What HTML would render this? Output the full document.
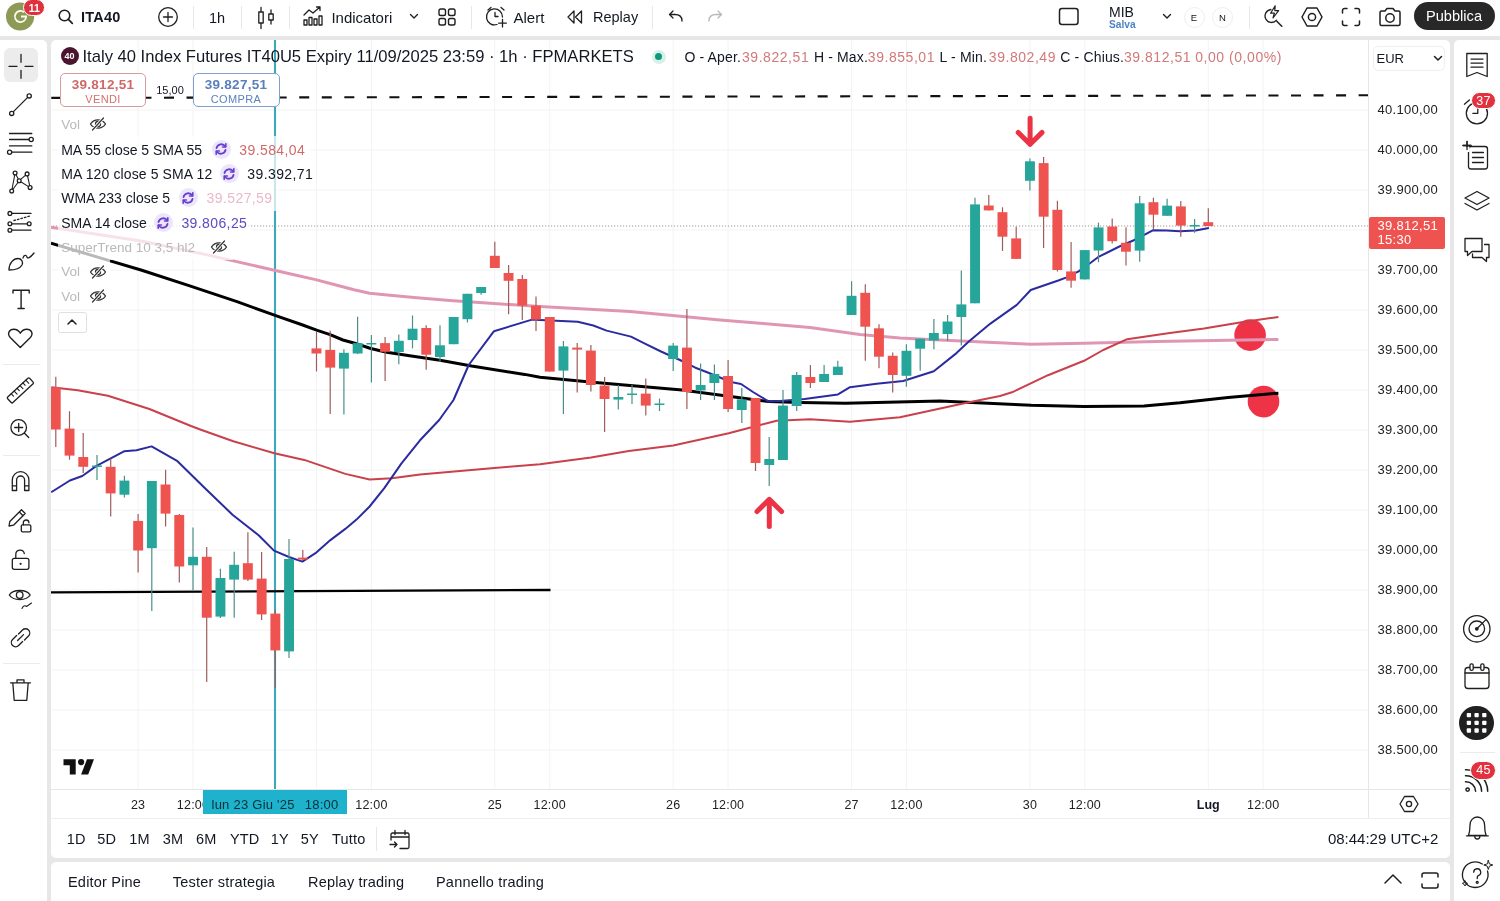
<!DOCTYPE html>
<html><head><meta charset="utf-8">
<style>
*{margin:0;padding:0;box-sizing:border-box}
html,body{width:1500px;height:901px;overflow:hidden;background:#e7e7e7;font-family:"Liberation Sans",sans-serif;color:#131722}
.a{position:absolute;white-space:nowrap}
.panel{position:absolute;background:#fff}
.t{position:absolute;white-space:nowrap;line-height:1}
svg{position:absolute;overflow:visible}
.ic{fill:none;stroke:#1f1f1f;stroke-width:1.3;stroke-linecap:round;stroke-linejoin:round}
</style></head><body style="filter:blur(0.35px)">
<!-- panels -->
<div class="panel" style="left:0;top:0;width:1500px;height:36px"></div>
<div class="panel" style="left:0;top:40px;width:47px;height:861px;border-radius:0 5px 0 0"></div>
<div class="panel" style="left:51px;top:40px;width:1399px;height:817.5px;border-radius:5px"></div>
<div class="panel" style="left:51px;top:862px;width:1399px;height:39px;border-radius:5px 5px 0 0"></div>
<div class="panel" style="left:1454px;top:40px;width:46px;height:861px;border-radius:5px 0 0 0"></div>

<!-- chart svg -->
<svg width="1500" height="901" style="left:0;top:0" viewBox="0 0 1500 901">
<defs><clipPath id="cp"><rect x="51" y="40" width="1317" height="749"/></clipPath></defs>
<g clip-path="url(#cp)">
<line x1="50" x2="1368" y1="110.0" y2="110.0" stroke="#f2f3f5" stroke-width="1"/>
<line x1="50" x2="1368" y1="150.0" y2="150.0" stroke="#f2f3f5" stroke-width="1"/>
<line x1="50" x2="1368" y1="190.0" y2="190.0" stroke="#f2f3f5" stroke-width="1"/>
<line x1="50" x2="1368" y1="230.0" y2="230.0" stroke="#f2f3f5" stroke-width="1"/>
<line x1="50" x2="1368" y1="270.0" y2="270.0" stroke="#f2f3f5" stroke-width="1"/>
<line x1="50" x2="1368" y1="310.0" y2="310.0" stroke="#f2f3f5" stroke-width="1"/>
<line x1="50" x2="1368" y1="350.0" y2="350.0" stroke="#f2f3f5" stroke-width="1"/>
<line x1="50" x2="1368" y1="390.0" y2="390.0" stroke="#f2f3f5" stroke-width="1"/>
<line x1="50" x2="1368" y1="430.0" y2="430.0" stroke="#f2f3f5" stroke-width="1"/>
<line x1="50" x2="1368" y1="470.0" y2="470.0" stroke="#f2f3f5" stroke-width="1"/>
<line x1="50" x2="1368" y1="510.0" y2="510.0" stroke="#f2f3f5" stroke-width="1"/>
<line x1="50" x2="1368" y1="550.0" y2="550.0" stroke="#f2f3f5" stroke-width="1"/>
<line x1="50" x2="1368" y1="590.0" y2="590.0" stroke="#f2f3f5" stroke-width="1"/>
<line x1="50" x2="1368" y1="630.0" y2="630.0" stroke="#f2f3f5" stroke-width="1"/>
<line x1="50" x2="1368" y1="670.0" y2="670.0" stroke="#f2f3f5" stroke-width="1"/>
<line x1="50" x2="1368" y1="710.0" y2="710.0" stroke="#f2f3f5" stroke-width="1"/>
<line x1="50" x2="1368" y1="750.0" y2="750.0" stroke="#f2f3f5" stroke-width="1"/>
<line x1="138.1" x2="138.1" y1="40" y2="789" stroke="#f2f3f5" stroke-width="1"/>
<line x1="193.0" x2="193.0" y1="40" y2="789" stroke="#f2f3f5" stroke-width="1"/>
<line x1="316.5" x2="316.5" y1="40" y2="789" stroke="#f2f3f5" stroke-width="1"/>
<line x1="371.4" x2="371.4" y1="40" y2="789" stroke="#f2f3f5" stroke-width="1"/>
<line x1="494.8" x2="494.8" y1="40" y2="789" stroke="#f2f3f5" stroke-width="1"/>
<line x1="549.7" x2="549.7" y1="40" y2="789" stroke="#f2f3f5" stroke-width="1"/>
<line x1="673.2" x2="673.2" y1="40" y2="789" stroke="#f2f3f5" stroke-width="1"/>
<line x1="728.1" x2="728.1" y1="40" y2="789" stroke="#f2f3f5" stroke-width="1"/>
<line x1="851.6" x2="851.6" y1="40" y2="789" stroke="#f2f3f5" stroke-width="1"/>
<line x1="906.4" x2="906.4" y1="40" y2="789" stroke="#f2f3f5" stroke-width="1"/>
<line x1="1029.9" x2="1029.9" y1="40" y2="789" stroke="#f2f3f5" stroke-width="1"/>
<line x1="1084.8" x2="1084.8" y1="40" y2="789" stroke="#f2f3f5" stroke-width="1"/>
<line x1="1208.3" x2="1208.3" y1="40" y2="789" stroke="#f2f3f5" stroke-width="1"/>
<line x1="1263.2" x2="1263.2" y1="40" y2="789" stroke="#f2f3f5" stroke-width="1"/>
<line x1="51.3" x2="1368" y1="97.9" y2="95.3" stroke="#111" stroke-width="2.1" stroke-dasharray="10 12.54"/>
<line x1="50" x2="1368" y1="226" y2="226" stroke="#a89393" stroke-width="1.2" stroke-dasharray="1.2 1.8"/>
<line x1="275" x2="275" y1="40" y2="789" stroke="#3fa8b8" stroke-width="2.1"/>
<circle cx="1250.1" cy="335.1" r="15.8" fill="#ee3347"/>
<circle cx="1263.5" cy="401.6" r="15.8" fill="#ee3347"/>
<path d="M51.0 227.2 L141.0 241.0 L205.0 254.4 L270.0 269.2 L294.0 274.8 L315.6 279.6 L336.0 285.0 L354.0 289.8 L369.6 293.2 L390.0 295.2 L414.0 297.6 L450.0 300.6 L540.0 306.5 L630.0 311.5 L720.0 320.0 L810.0 327.5 L860.0 334.6 L900.0 338.0 L940.0 339.9 L1031.2 344.2 L1084.0 343.3 L1156.0 341.6 L1278.4 339.4" fill="none" stroke="#e096b3" stroke-width="3" stroke-linejoin="round"/>
<path d="M51.0 243.1 L102.6 258.6 L141.0 270.0 L189.0 285.6 L237.0 301.6 L273.0 314.7 L280.0 317.1 L301.3 324.5 L317.3 330.4 L330.1 334.7 L342.9 340.0 L354.7 343.2 L370.7 348.5 L386.7 352.3 L408.0 355.5 L440.0 360.3 L471.6 366.1 L524.8 374.4 L540.0 377.3 L595.5 382.6 L682.0 390.0 L739.8 397.7 L768.7 401.6 L800.0 402.5 L845.4 403.2 L940.0 401.1 L1031.2 405.2 L1084.0 406.4 L1144.0 405.9 L1180.0 402.8 L1228.0 397.5 L1278.4 393.2" fill="none" stroke="#000" stroke-width="3" stroke-linejoin="round"/>
<path d="M51.3 387.2 L77.7 390.2 L107.9 395.8 L149.4 409.0 L191.0 426.0 L201.6 430.0 L233.3 441.2 L274.4 453.3 L304.3 459.9 L345.3 473.9 L369.6 479.5 L392.0 478.2 L420.0 474.4 L480.0 469.2 L540.0 464.3 L591.0 457.6 L628.8 451.0 L673.2 445.4 L728.7 433.2 L760.0 425.0 L776.7 420.7 L810.0 419.3 L850.0 421.7 L900.0 417.3 L933.3 410.0 L966.7 402.7 L1000.0 396.0 L1012.0 392.3 L1048.0 375.2 L1084.0 360.8 L1103.2 350.0 L1127.2 339.2 L1168.0 333.2 L1204.0 328.4 L1240.0 322.4 L1278.4 316.9" fill="none" stroke="#c8414b" stroke-width="2" stroke-linejoin="round"/>
<path d="M51.2 492.2 L69.9 480.5 L82.3 476.0 L96.5 465.9 L109.8 458.8 L124.0 451.3 L136.5 450.3 L151.6 446.4 L177.5 461.2 L205.0 488.2 L232.5 514.7 L258.9 535.5 L274.0 550.6 L289.0 557.0 L302.4 561.6 L315.5 553.2 L330.4 540.1 L345.3 528.9 L356.5 519.6 L369.6 506.5 L384.5 487.9 L401.3 463.6 L420.0 440.3 L439.2 420.0 L453.5 400.0 L468.7 365.0 L494.0 331.2 L532.0 319.6 L540.0 320.0 L577.7 321.7 L593.3 325.5 L606.6 330.6 L631.0 336.6 L644.4 343.3 L661.0 351.5 L679.9 360.0 L695.4 367.7 L706.5 372.0 L731.0 382.0 L741.0 384.0 L753.0 392.0 L768.7 401.6 L780.0 401.0 L804.6 398.9 L838.0 394.4 L850.0 387.2 L876.6 383.7 L903.2 381.0 L933.8 371.3 L956.5 353.1 L968.8 341.6 L990.4 323.6 L1016.8 304.9 L1030.7 290.0 L1059.0 280.2 L1066.0 277.6 L1078.6 271.4 L1091.0 262.5 L1098.0 257.2 L1119.4 246.5 L1134.4 240.0 L1153.3 230.2 L1166.7 230.6 L1180.0 231.3 L1195.5 230.6 L1208.9 228.0" fill="none" stroke="#2b2ba0" stroke-width="2" stroke-linejoin="round"/>
<line x1="51" x2="550.5" y1="592.3" y2="590" stroke="#000" stroke-width="2.3"/>
<line x1="55.8" x2="55.8" y1="376.7" y2="447.0" stroke="#a05c5c" stroke-width="1.2"/>
<rect x="50.8" y="387.2" width="9.9" height="42.3" fill="#ef5350"/>
<line x1="69.5" x2="69.5" y1="411.2" y2="459.7" stroke="#a05c5c" stroke-width="1.2"/>
<rect x="64.6" y="428.6" width="9.9" height="27.0" fill="#ef5350"/>
<line x1="83.2" x2="83.2" y1="433.0" y2="473.0" stroke="#a05c5c" stroke-width="1.2"/>
<rect x="78.3" y="457.0" width="9.9" height="9.8" fill="#ef5350"/>
<line x1="97.0" x2="97.0" y1="455.0" y2="480.0" stroke="#4c8f88" stroke-width="1.2"/>
<rect x="92.0" y="465.5" width="9.9" height="1.5" fill="#26a69a"/>
<line x1="110.7" x2="110.7" y1="458.8" y2="516.5" stroke="#a05c5c" stroke-width="1.2"/>
<rect x="105.7" y="466.8" width="9.9" height="26.6" fill="#ef5350"/>
<line x1="124.4" x2="124.4" y1="475.7" y2="497.5" stroke="#4c8f88" stroke-width="1.2"/>
<rect x="119.5" y="480.6" width="9.9" height="14.1" fill="#26a69a"/>
<line x1="138.1" x2="138.1" y1="514.0" y2="572.4" stroke="#a05c5c" stroke-width="1.2"/>
<rect x="133.2" y="520.9" width="9.9" height="29.6" fill="#ef5350"/>
<line x1="151.8" x2="151.8" y1="481.0" y2="611.0" stroke="#4c8f88" stroke-width="1.2"/>
<rect x="146.9" y="481.0" width="9.9" height="67.2" fill="#26a69a"/>
<line x1="165.6" x2="165.6" y1="469.7" y2="526.6" stroke="#a05c5c" stroke-width="1.2"/>
<rect x="160.6" y="484.5" width="9.9" height="29.1" fill="#ef5350"/>
<line x1="179.3" x2="179.3" y1="514.0" y2="582.6" stroke="#a05c5c" stroke-width="1.2"/>
<rect x="174.3" y="515.0" width="9.9" height="51.5" fill="#ef5350"/>
<line x1="193.0" x2="193.0" y1="527.5" y2="590.0" stroke="#4c8f88" stroke-width="1.2"/>
<rect x="188.1" y="556.8" width="9.9" height="8.5" fill="#26a69a"/>
<line x1="206.7" x2="206.7" y1="547.0" y2="682.0" stroke="#a05c5c" stroke-width="1.2"/>
<rect x="201.8" y="556.8" width="9.9" height="60.9" fill="#ef5350"/>
<line x1="220.4" x2="220.4" y1="568.8" y2="618.0" stroke="#4c8f88" stroke-width="1.2"/>
<rect x="215.5" y="578.0" width="9.9" height="38.6" fill="#26a69a"/>
<line x1="234.2" x2="234.2" y1="551.8" y2="617.7" stroke="#4c8f88" stroke-width="1.2"/>
<rect x="229.2" y="564.8" width="9.9" height="14.8" fill="#26a69a"/>
<line x1="247.9" x2="247.9" y1="532.3" y2="581.0" stroke="#a05c5c" stroke-width="1.2"/>
<rect x="242.9" y="563.2" width="9.9" height="16.4" fill="#ef5350"/>
<line x1="261.6" x2="261.6" y1="552.0" y2="620.0" stroke="#a05c5c" stroke-width="1.2"/>
<rect x="256.7" y="578.6" width="9.9" height="35.8" fill="#ef5350"/>
<line x1="275.3" x2="275.3" y1="610.0" y2="688.0" stroke="#a05c5c" stroke-width="1.2"/>
<rect x="270.4" y="613.6" width="9.9" height="36.8" fill="#ef5350"/>
<line x1="289.0" x2="289.0" y1="539.0" y2="658.0" stroke="#4c8f88" stroke-width="1.2"/>
<rect x="284.1" y="559.0" width="9.9" height="92.4" fill="#26a69a"/>
<line x1="302.8" x2="302.8" y1="550.0" y2="560.0" stroke="#a05c5c" stroke-width="1.2"/>
<rect x="297.8" y="557.6" width="9.9" height="2.0" fill="#ef5350"/>
<line x1="316.5" x2="316.5" y1="331.8" y2="371.5" stroke="#a05c5c" stroke-width="1.2"/>
<rect x="311.5" y="348.4" width="9.9" height="5.1" fill="#ef5350"/>
<line x1="330.2" x2="330.2" y1="330.7" y2="414.1" stroke="#a05c5c" stroke-width="1.2"/>
<rect x="325.3" y="349.9" width="9.9" height="17.7" fill="#ef5350"/>
<line x1="343.9" x2="343.9" y1="349.2" y2="414.4" stroke="#4c8f88" stroke-width="1.2"/>
<rect x="339.0" y="352.8" width="9.9" height="15.8" fill="#26a69a"/>
<line x1="357.6" x2="357.6" y1="316.7" y2="354.0" stroke="#4c8f88" stroke-width="1.2"/>
<rect x="352.7" y="343.1" width="9.9" height="10.4" fill="#26a69a"/>
<line x1="371.4" x2="371.4" y1="335.0" y2="382.4" stroke="#4c8f88" stroke-width="1.2"/>
<rect x="366.4" y="343.0" width="9.9" height="1.5" fill="#26a69a"/>
<line x1="385.1" x2="385.1" y1="336.9" y2="380.9" stroke="#a05c5c" stroke-width="1.2"/>
<rect x="380.1" y="343.1" width="9.9" height="8.7" fill="#ef5350"/>
<line x1="398.8" x2="398.8" y1="334.4" y2="364.3" stroke="#4c8f88" stroke-width="1.2"/>
<rect x="393.9" y="340.8" width="9.9" height="11.2" fill="#26a69a"/>
<line x1="412.5" x2="412.5" y1="315.5" y2="348.4" stroke="#4c8f88" stroke-width="1.2"/>
<rect x="407.6" y="328.7" width="9.9" height="11.3" fill="#26a69a"/>
<line x1="426.2" x2="426.2" y1="325.3" y2="369.7" stroke="#a05c5c" stroke-width="1.2"/>
<rect x="421.3" y="328.0" width="9.9" height="26.7" fill="#ef5350"/>
<line x1="440.0" x2="440.0" y1="325.3" y2="361.7" stroke="#4c8f88" stroke-width="1.2"/>
<rect x="435.0" y="345.3" width="9.9" height="11.7" fill="#26a69a"/>
<line x1="453.7" x2="453.7" y1="317.0" y2="344.2" stroke="#4c8f88" stroke-width="1.2"/>
<rect x="448.7" y="317.0" width="9.9" height="27.2" fill="#26a69a"/>
<line x1="467.4" x2="467.4" y1="293.8" y2="322.5" stroke="#4c8f88" stroke-width="1.2"/>
<rect x="462.5" y="293.8" width="9.9" height="25.4" fill="#26a69a"/>
<line x1="481.1" x2="481.1" y1="287.0" y2="294.7" stroke="#4c8f88" stroke-width="1.2"/>
<rect x="476.2" y="287.0" width="9.9" height="6.0" fill="#26a69a"/>
<line x1="494.8" x2="494.8" y1="241.7" y2="268.0" stroke="#a05c5c" stroke-width="1.2"/>
<rect x="489.9" y="255.8" width="9.9" height="12.2" fill="#ef5350"/>
<line x1="508.6" x2="508.6" y1="265.0" y2="314.2" stroke="#a05c5c" stroke-width="1.2"/>
<rect x="503.6" y="273.0" width="9.9" height="7.8" fill="#ef5350"/>
<line x1="522.3" x2="522.3" y1="275.0" y2="320.0" stroke="#a05c5c" stroke-width="1.2"/>
<rect x="517.3" y="279.0" width="9.9" height="26.6" fill="#ef5350"/>
<line x1="536.0" x2="536.0" y1="296.4" y2="331.0" stroke="#a05c5c" stroke-width="1.2"/>
<rect x="531.0" y="305.6" width="9.9" height="14.0" fill="#ef5350"/>
<line x1="549.7" x2="549.7" y1="317.0" y2="371.6" stroke="#a05c5c" stroke-width="1.2"/>
<rect x="544.8" y="317.0" width="9.9" height="54.6" fill="#ef5350"/>
<line x1="563.4" x2="563.4" y1="341.0" y2="414.0" stroke="#4c8f88" stroke-width="1.2"/>
<rect x="558.5" y="346.4" width="9.9" height="24.2" fill="#26a69a"/>
<line x1="577.2" x2="577.2" y1="343.0" y2="392.4" stroke="#a05c5c" stroke-width="1.2"/>
<rect x="572.2" y="347.6" width="9.9" height="2.0" fill="#ef5350"/>
<line x1="590.9" x2="590.9" y1="345.0" y2="391.6" stroke="#a05c5c" stroke-width="1.2"/>
<rect x="585.9" y="350.6" width="9.9" height="34.4" fill="#ef5350"/>
<line x1="604.6" x2="604.6" y1="377.0" y2="432.0" stroke="#a05c5c" stroke-width="1.2"/>
<rect x="599.6" y="385.6" width="9.9" height="13.4" fill="#ef5350"/>
<line x1="618.3" x2="618.3" y1="385.0" y2="409.6" stroke="#4c8f88" stroke-width="1.2"/>
<rect x="613.4" y="397.0" width="9.9" height="2.6" fill="#26a69a"/>
<line x1="632.0" x2="632.0" y1="385.0" y2="404.0" stroke="#4c8f88" stroke-width="1.2"/>
<rect x="627.1" y="393.5" width="9.9" height="1.5" fill="#26a69a"/>
<line x1="645.8" x2="645.8" y1="378.4" y2="415.6" stroke="#a05c5c" stroke-width="1.2"/>
<rect x="640.8" y="393.6" width="9.9" height="12.0" fill="#ef5350"/>
<line x1="659.5" x2="659.5" y1="398.6" y2="411.0" stroke="#4c8f88" stroke-width="1.2"/>
<rect x="654.5" y="403.5" width="9.9" height="1.5" fill="#26a69a"/>
<line x1="673.2" x2="673.2" y1="343.0" y2="371.0" stroke="#4c8f88" stroke-width="1.2"/>
<rect x="668.2" y="345.6" width="9.9" height="13.4" fill="#26a69a"/>
<line x1="686.9" x2="686.9" y1="309.0" y2="409.0" stroke="#a05c5c" stroke-width="1.2"/>
<rect x="682.0" y="347.6" width="9.9" height="44.4" fill="#ef5350"/>
<line x1="700.6" x2="700.6" y1="363.6" y2="400.0" stroke="#4c8f88" stroke-width="1.2"/>
<rect x="695.7" y="385.0" width="9.9" height="5.4" fill="#26a69a"/>
<line x1="714.4" x2="714.4" y1="364.4" y2="400.0" stroke="#4c8f88" stroke-width="1.2"/>
<rect x="709.4" y="374.0" width="9.9" height="9.0" fill="#26a69a"/>
<line x1="728.1" x2="728.1" y1="360.0" y2="412.0" stroke="#a05c5c" stroke-width="1.2"/>
<rect x="723.1" y="376.0" width="9.9" height="33.0" fill="#ef5350"/>
<line x1="741.8" x2="741.8" y1="388.0" y2="423.0" stroke="#4c8f88" stroke-width="1.2"/>
<rect x="736.8" y="399.4" width="9.9" height="10.6" fill="#26a69a"/>
<line x1="755.5" x2="755.5" y1="398.0" y2="471.0" stroke="#a05c5c" stroke-width="1.2"/>
<rect x="750.6" y="398.0" width="9.9" height="65.0" fill="#ef5350"/>
<line x1="769.2" x2="769.2" y1="437.0" y2="486.0" stroke="#4c8f88" stroke-width="1.2"/>
<rect x="764.3" y="459.0" width="9.9" height="6.0" fill="#26a69a"/>
<line x1="783.0" x2="783.0" y1="390.0" y2="460.0" stroke="#4c8f88" stroke-width="1.2"/>
<rect x="778.0" y="405.6" width="9.9" height="54.4" fill="#26a69a"/>
<line x1="796.7" x2="796.7" y1="372.0" y2="411.0" stroke="#4c8f88" stroke-width="1.2"/>
<rect x="791.7" y="375.0" width="9.9" height="31.0" fill="#26a69a"/>
<line x1="810.4" x2="810.4" y1="365.0" y2="388.0" stroke="#a05c5c" stroke-width="1.2"/>
<rect x="805.4" y="377.0" width="9.9" height="6.0" fill="#ef5350"/>
<line x1="824.1" x2="824.1" y1="365.0" y2="382.0" stroke="#4c8f88" stroke-width="1.2"/>
<rect x="819.2" y="374.0" width="9.9" height="8.0" fill="#26a69a"/>
<line x1="837.8" x2="837.8" y1="360.8" y2="375.0" stroke="#4c8f88" stroke-width="1.2"/>
<rect x="832.9" y="366.7" width="9.9" height="8.3" fill="#26a69a"/>
<line x1="851.6" x2="851.6" y1="281.3" y2="315.0" stroke="#4c8f88" stroke-width="1.2"/>
<rect x="846.6" y="295.8" width="9.9" height="19.2" fill="#26a69a"/>
<line x1="865.3" x2="865.3" y1="284.2" y2="360.8" stroke="#a05c5c" stroke-width="1.2"/>
<rect x="860.3" y="292.8" width="9.9" height="33.9" fill="#ef5350"/>
<line x1="879.0" x2="879.0" y1="324.2" y2="368.3" stroke="#a05c5c" stroke-width="1.2"/>
<rect x="874.0" y="328.3" width="9.9" height="28.4" fill="#ef5350"/>
<line x1="892.7" x2="892.7" y1="352.5" y2="392.5" stroke="#a05c5c" stroke-width="1.2"/>
<rect x="887.8" y="355.8" width="9.9" height="19.2" fill="#ef5350"/>
<line x1="906.4" x2="906.4" y1="344.2" y2="386.7" stroke="#4c8f88" stroke-width="1.2"/>
<rect x="901.5" y="350.8" width="9.9" height="25.0" fill="#26a69a"/>
<line x1="920.2" x2="920.2" y1="338.7" y2="370.8" stroke="#4c8f88" stroke-width="1.2"/>
<rect x="915.2" y="338.7" width="9.9" height="10.0" fill="#26a69a"/>
<line x1="933.9" x2="933.9" y1="319.0" y2="349.2" stroke="#4c8f88" stroke-width="1.2"/>
<rect x="928.9" y="333.0" width="9.9" height="7.5" fill="#26a69a"/>
<line x1="947.6" x2="947.6" y1="314.9" y2="341.0" stroke="#4c8f88" stroke-width="1.2"/>
<rect x="942.6" y="321.5" width="9.9" height="12.5" fill="#26a69a"/>
<line x1="961.3" x2="961.3" y1="270.4" y2="345.6" stroke="#4c8f88" stroke-width="1.2"/>
<rect x="956.4" y="304.4" width="9.9" height="12.6" fill="#26a69a"/>
<line x1="975.0" x2="975.0" y1="197.8" y2="303.3" stroke="#4c8f88" stroke-width="1.2"/>
<rect x="970.1" y="204.4" width="9.9" height="98.9" fill="#26a69a"/>
<line x1="988.8" x2="988.8" y1="194.9" y2="210.4" stroke="#a05c5c" stroke-width="1.2"/>
<rect x="983.8" y="205.5" width="9.9" height="4.9" fill="#ef5350"/>
<line x1="1002.5" x2="1002.5" y1="207.3" y2="251.0" stroke="#a05c5c" stroke-width="1.2"/>
<rect x="997.5" y="212.2" width="9.9" height="24.5" fill="#ef5350"/>
<line x1="1016.2" x2="1016.2" y1="226.7" y2="258.9" stroke="#a05c5c" stroke-width="1.2"/>
<rect x="1011.2" y="238.4" width="9.9" height="20.5" fill="#ef5350"/>
<line x1="1029.9" x2="1029.9" y1="158.6" y2="190.6" stroke="#4c8f88" stroke-width="1.2"/>
<rect x="1025.0" y="161.3" width="9.9" height="19.5" fill="#26a69a"/>
<line x1="1043.6" x2="1043.6" y1="156.9" y2="248.0" stroke="#a05c5c" stroke-width="1.2"/>
<rect x="1038.7" y="163.1" width="9.9" height="53.6" fill="#ef5350"/>
<line x1="1057.4" x2="1057.4" y1="200.7" y2="271.4" stroke="#a05c5c" stroke-width="1.2"/>
<rect x="1052.4" y="209.8" width="9.9" height="60.2" fill="#ef5350"/>
<line x1="1071.1" x2="1071.1" y1="242.0" y2="287.8" stroke="#a05c5c" stroke-width="1.2"/>
<rect x="1066.1" y="271.4" width="9.9" height="9.3" fill="#ef5350"/>
<line x1="1084.8" x2="1084.8" y1="250.1" y2="279.4" stroke="#4c8f88" stroke-width="1.2"/>
<rect x="1079.8" y="250.1" width="9.9" height="29.3" fill="#26a69a"/>
<line x1="1098.5" x2="1098.5" y1="222.6" y2="262.2" stroke="#4c8f88" stroke-width="1.2"/>
<rect x="1093.6" y="227.4" width="9.9" height="23.1" fill="#26a69a"/>
<line x1="1112.2" x2="1112.2" y1="218.5" y2="243.4" stroke="#a05c5c" stroke-width="1.2"/>
<rect x="1107.3" y="226.5" width="9.9" height="14.7" fill="#ef5350"/>
<line x1="1126.0" x2="1126.0" y1="227.2" y2="265.6" stroke="#a05c5c" stroke-width="1.2"/>
<rect x="1121.0" y="242.8" width="9.9" height="8.9" fill="#ef5350"/>
<line x1="1139.7" x2="1139.7" y1="196.1" y2="261.7" stroke="#4c8f88" stroke-width="1.2"/>
<rect x="1134.7" y="203.3" width="9.9" height="47.3" fill="#26a69a"/>
<line x1="1153.4" x2="1153.4" y1="197.8" y2="228.9" stroke="#a05c5c" stroke-width="1.2"/>
<rect x="1148.5" y="202.2" width="9.9" height="12.5" fill="#ef5350"/>
<line x1="1167.1" x2="1167.1" y1="198.7" y2="215.8" stroke="#4c8f88" stroke-width="1.2"/>
<rect x="1162.2" y="205.6" width="9.9" height="10.2" fill="#26a69a"/>
<line x1="1180.8" x2="1180.8" y1="201.1" y2="236.7" stroke="#a05c5c" stroke-width="1.2"/>
<rect x="1175.9" y="206.4" width="9.9" height="19.2" fill="#ef5350"/>
<line x1="1194.6" x2="1194.6" y1="218.9" y2="232.8" stroke="#4c8f88" stroke-width="1.2"/>
<rect x="1189.6" y="225.0" width="9.9" height="1.5" fill="#26a69a"/>
<line x1="1208.3" x2="1208.3" y1="208.3" y2="226.1" stroke="#a05c5c" stroke-width="1.2"/>
<rect x="1203.3" y="222.2" width="9.9" height="3.9" fill="#ef5350"/>
<path d="M769.3 526.5 V499.4 M757 511.6 L769.3 499.3 L781.6 511.6" fill="none" stroke="#eb3346" stroke-width="5" stroke-linejoin="round" stroke-linecap="round"/>
<path d="M1030.1 118.2 V144.3 M1018.2 132.4 L1030.1 144.3 L1042.1 132.4" fill="none" stroke="#eb3346" stroke-width="5" stroke-linejoin="round" stroke-linecap="round"/>
</g>
<!-- axis borders -->
<line x1="1368.5" x2="1368.5" y1="40" y2="818" stroke="#e6e6e6" stroke-width="1"/>
<line x1="51" x2="1450" y1="789.5" y2="789.5" stroke="#e6e6e6" stroke-width="1"/>
<line x1="51" x2="1450" y1="818.5" y2="818.5" stroke="#eeeeee" stroke-width="1"/>
</svg>

<svg style="left:4px;top:1px" width="34" height="34" viewBox="0 0 34 34"><circle cx="16.1" cy="15.5" r="14.1" fill="#8c9a56"/><path d="M20.1 11.2 A5.6 5.6 0 1 0 22.1 15.5 H17" fill="none" stroke="#fbfbef" stroke-width="1.8"/></svg>
<div class="a" style="left:23.3px;top:-0.8px;width:22.2px;height:16.8px;border-radius:9px;background:#e0303e;border:1.5px solid #fff"></div>
<div class="t" style="left:34.4px;width:0;top:2.5px;font-size:10.5px;color:#fff;display:flex;justify-content:center;font-weight:700;letter-spacing:0.20px">11</div>
<svg style="left:57px;top:8px" width="18" height="18" viewBox="0 0 18 18"><circle cx="7.5" cy="7.5" r="5.3" class="ic" style="stroke-width:1.6"/><path d="M11.4 11.4 L15.3 15.3" class="ic" style="stroke-width:1.7"/></svg>
<div class="t" style="left:81.0px;top:10.2px;font-size:14.5px;color:#131722;font-weight:700;letter-spacing:0.20px">ITA40</div>
<svg style="left:157px;top:6px" width="22" height="22" viewBox="0 0 22 22"><circle cx="11" cy="11" r="9.3" class="ic"/><path d="M11 6.5 V15.5 M6.5 11 H15.5" class="ic"/></svg>
<div class="a" style="left:193px;top:6px;width:1px;height:23px;background:#e8e8e8"></div>
<div class="a" style="left:241px;top:6px;width:1px;height:23px;background:#e8e8e8"></div>
<div class="a" style="left:289px;top:6px;width:1px;height:23px;background:#e8e8e8"></div>
<div class="a" style="left:471px;top:6px;width:1px;height:23px;background:#e8e8e8"></div>
<div class="a" style="left:652px;top:6px;width:1px;height:23px;background:#e8e8e8"></div>
<div class="a" style="left:1249px;top:6px;width:1px;height:23px;background:#e8e8e8"></div>
<div class="t" style="left:209.0px;top:11.2px;font-size:14.5px;color:#131722">1h</div>
<svg style="left:256px;top:6px" width="20" height="24" viewBox="0 0 20 24"><path d="M5 1.5 V22.5 M15 4 V18" class="ic"/><rect x="2.8" y="6" width="4.4" height="11" class="ic" style="fill:#fff"/><rect x="12.8" y="8" width="4.4" height="6" class="ic" style="fill:#fff"/></svg>
<svg style="left:302px;top:5px" width="22" height="22" viewBox="0 0 22 22"><path d="M2 10 L7 5 L11 8 L18 2 M18 2 H14.5 M18 2 V5.5" class="ic"/><rect x="2" y="15" width="3" height="5" class="ic"/><rect x="7" y="12.5" width="3" height="7.5" class="ic"/><rect x="12" y="14" width="3" height="6" class="ic"/><rect x="17" y="11" width="3" height="9" class="ic"/></svg>
<div class="t" style="left:331.4px;top:10.1px;font-size:15.0px;color:#131722">Indicatori</div>
<svg style="left:409px;top:13px" width="10" height="7" viewBox="0 0 10 7"><path d="M1.5 1.5 L5 5 L8.5 1.5" class="ic" style="stroke-width:1.4"/></svg>
<svg style="left:437px;top:7px" width="20" height="20" viewBox="0 0 20 20"><rect x="2" y="2" width="6.5" height="6.5" rx="1.8" class="ic" style="stroke-width:1.4"/><rect x="11.5" y="2" width="6.5" height="6.5" rx="1.8" class="ic" style="stroke-width:1.4"/><rect x="2" y="11.5" width="6.5" height="6.5" rx="1.8" class="ic" style="stroke-width:1.4"/><rect x="11.5" y="11.5" width="6.5" height="6.5" rx="1.8" class="ic" style="stroke-width:1.4"/></svg>
<svg style="left:484.5px;top:5px" width="24" height="24" viewBox="0 0 24 24"><path d="M17.5 12 A8 8 0 1 0 12 19.5" class="ic"/><path d="M10 7.5 V11.5 H13" class="ic"/><path d="M3 5 L6 2.5 M16 2.5 L19 5" class="ic"/><path d="M17.5 14.5 V22 M13.7 18.2 H21.3" class="ic"/></svg>
<div class="t" style="left:513.5px;top:10.1px;font-size:15.0px;color:#131722">Alert</div>
<svg style="left:566px;top:9px" width="18" height="16" viewBox="0 0 18 16"><path d="M8 2 L2 8 L8 14 Z M15.5 2 L9.5 8 L15.5 14 Z" class="ic"/></svg>
<div class="t" style="left:593.0px;top:10.3px;font-size:14.5px;color:#131722">Replay</div>
<svg style="left:667px;top:8px" width="18" height="16" viewBox="0 0 18 16"><path d="M15 13 C15 8 12 6.5 8 6.5 H2.5 M6 3 L2.5 6.5 L6 10" class="ic"/></svg>
<svg style="left:706px;top:8px" width="18" height="16" viewBox="0 0 18 16"><path d="M3 13 C3 8 6 6.5 10 6.5 H15.5 M12 3 L15.5 6.5 L12 10" class="ic" style="stroke:#b8b8b8"/></svg>
<svg style="left:1058px;top:7px" width="22" height="19" viewBox="0 0 22 19"><rect x="1.5" y="1.5" width="18.5" height="16" rx="2.5" class="ic" style="stroke-width:1.5"/></svg>
<div class="t" style="left:1109.0px;top:5.2px;font-size:14.0px;color:#131722">MIB</div>
<div class="t" style="left:1109.0px;top:20.3px;font-size:10.2px;color:#4f83c4;font-weight:700">Salva</div>
<svg style="left:1162px;top:13px" width="10" height="7" viewBox="0 0 10 7"><path d="M1.5 1.5 L5 5 L8.5 1.5" class="ic" style="stroke-width:1.4"/></svg>
<div class="a" style="left:1183.5px;top:6.5px;width:21px;height:21px;border-radius:50%;border:1px solid #eeeeee"></div>
<div class="a" style="left:1212px;top:6.5px;width:21px;height:21px;border-radius:50%;border:1px solid #eeeeee"></div>
<div class="t" style="left:1194.0px;width:0;top:12.6px;font-size:9.5px;color:#131722;display:flex;justify-content:center">E</div>
<div class="t" style="left:1222.5px;width:0;top:12.6px;font-size:9.5px;color:#131722;display:flex;justify-content:center">N</div>
<svg style="left:1262px;top:5px" width="22" height="24" viewBox="0 0 22 24"><path d="M8.9 4.5 A6.5 6.5 0 1 0 14.5 15.2" class="ic"/><path d="M14.8 16.3 L19.8 21.3" class="ic" style="stroke-width:1.5"/><path d="M13.2 0.8 L8.6 8.2 H12.4 L11 13 L16.6 5.6 H12.8 Z" class="ic" style="fill:#fff;stroke-width:1.2"/></svg>
<svg style="left:1300px;top:6px" width="24" height="22" viewBox="0 0 24 22"><path d="M7 2 H17 L22 11 L17 20 H7 L2 11 Z" class="ic" style="stroke-width:1.5"/><circle cx="12" cy="11" r="3.6" class="ic" style="stroke-width:1.5"/></svg>
<svg style="left:1341px;top:7px" width="20" height="20" viewBox="0 0 20 20"><path d="M1.5 6 V3.5 A2 2 0 0 1 3.5 1.5 H6 M14 1.5 H16.5 A2 2 0 0 1 18.5 3.5 V6 M18.5 14 V16.5 A2 2 0 0 1 16.5 18.5 H14 M6 18.5 H3.5 A2 2 0 0 1 1.5 16.5 V14" class="ic" style="stroke-width:1.5"/></svg>
<svg style="left:1378px;top:6px" width="24" height="22" viewBox="0 0 24 22"><path d="M2 6.5 A1.5 1.5 0 0 1 3.5 5 H7 L9 2.5 H15 L17 5 H20.5 A1.5 1.5 0 0 1 22 6.5 V18 A1.5 1.5 0 0 1 20.5 19.5 H3.5 A1.5 1.5 0 0 1 2 18 Z" class="ic" style="stroke-width:1.5"/><circle cx="12" cy="12" r="4.2" class="ic" style="stroke-width:1.5"/></svg>
<div class="a" style="left:1413.7px;top:2.3px;width:81px;height:28px;border-radius:14px;background:#282828"></div>
<div class="t" style="left:1454.0px;width:0;top:9.2px;font-size:14.6px;color:#fff;display:flex;justify-content:center">Pubblica</div>
<div class="a" style="left:3.8px;top:48.4px;width:34.3px;height:34.1px;border-radius:6px;background:#ececec"></div>
<svg style="left:0;top:0" width="47" height="720" viewBox="0 0 47 720"><path d="M21 54.3 V62.3 M21 70.3 V78.3 M9 66.3 H17 M25 66.3 H33" class="ic" style="stroke-width:1.3"/><path d="M13.2 111.9 L27.7 97.4" class="ic"/><circle cx="11.7" cy="113.4" r="2.1" class="ic" style="fill:#fff"/><circle cx="29.2" cy="95.9" r="2.1" class="ic" style="fill:#fff"/><path d="M9.5 133.5 H31.8 M9.5 139.5 H29 M9.5 145.9 H31.8 M11.6 152.2 H31.8" class="ic"/><circle cx="31.2" cy="139.5" r="2.1" class="ic" style="fill:#fff"/><circle cx="9.6" cy="152.2" r="2.1" class="ic" style="fill:#fff"/><path d="M11.7 191 L15.1 173 L19.2 180.7 L27.1 173.9 L30.1 187.6 L19.2 180.7 M15.1 173 L11.7 191 M11.7 191 L19.2 180.7" class="ic" style="stroke-width:1.1"/><circle cx="15.1" cy="173" r="1.9" class="ic" style="fill:#fff"/><circle cx="27.1" cy="173.9" r="1.9" class="ic" style="fill:#fff"/><circle cx="19.2" cy="180.7" r="1.9" class="ic" style="fill:#fff"/><circle cx="30.1" cy="187.6" r="1.9" class="ic" style="fill:#fff"/><circle cx="11.7" cy="191" r="1.9" class="ic" style="fill:#fff"/><path d="M11.5 213.4 H31 M11.5 223.8 H27.2 M11.5 230.2 H31" class="ic"/><path d="M14 220.5 L30 216" class="ic" style="stroke-dasharray:1.6 2"/><circle cx="9.9" cy="213.4" r="1.9" class="ic" style="fill:#fff"/><circle cx="9.9" cy="223.8" r="1.9" class="ic" style="fill:#fff"/><circle cx="29.2" cy="223.8" r="1.9" class="ic" style="fill:#fff"/><circle cx="9.9" cy="230.2" r="1.9" class="ic" style="fill:#fff"/><path d="M9 270 C9 263 13.5 258.5 18 258.5 C21.5 258.5 23.5 262 22 265 C20 268.5 14.5 270 9 270 Z" class="ic"/><path d="M23 258 C23.5 255 26.5 254.5 27 257 C27.5 259 30 258 34 253" class="ic"/><path d="M13 293 V290.3 H29.2 V293 M21.1 290.3 V308.5 M18 308.5 H24.2" class="ic" style="stroke-width:1.4"/><path d="M20.3 347.5 L10.5 337.8 C6.5 333.5 9.5 329.2 13.8 329.2 C16.5 329.2 19 331 20.3 333.2 C21.6 331 24.1 329.2 26.8 329.2 C31.1 329.2 34.1 333.5 30.1 337.8 Z" class="ic" style="stroke-width:1.4"/><g transform="translate(20.4 390.4) rotate(-43)"><rect x="-15" y="-3.8" width="30" height="7.6" rx="1.2" class="ic"/><path d="M-9 -3.8 V-0.5 M-5 -3.8 V0.5 M-1 -3.8 V-0.5 M3 -3.8 V0.5 M7 -3.8 V-0.5 M11 -3.8 V0.5" class="ic" style="stroke-width:1.1"/></g><circle cx="18.7" cy="427.5" r="7.8" class="ic"/><path d="M24.5 433.3 L28.7 437.5 M18.7 423.5 V431.5 M14.7 427.5 H22.7" class="ic"/><path d="M12.3 490.5 V480 A8.3 8.3 0 0 1 28.9 480 V490.5 H24.6 V480 A4 4 0 0 0 16.6 480 V490.5 Z M12.3 485.8 H16.6 M24.6 485.8 H28.9" class="ic"/><path d="M9 526 L9.8 521.5 L21.5 509.8 L25.2 513.5 L13.5 525.2 Z M19.3 512 L23 515.7" class="ic"/><rect x="21.3" y="524.8" width="9.5" height="7" rx="1.2" class="ic"/><path d="M23.3 524.8 V522.8 A2.8 2.8 0 0 1 28.9 522.8" class="ic"/><rect x="12.3" y="558.3" width="16.6" height="11" rx="2" class="ic"/><path d="M15.8 558.3 V554.5 A4.3 4.3 0 0 1 24.3 553.5" class="ic"/><circle cx="20.6" cy="563.8" r="1.1" fill="#1f1f1f"/><path d="M9.3 595 C13 589 26.5 589 30.2 595 C26.5 601 13 601 9.3 595 Z" class="ic"/><circle cx="19.7" cy="595" r="3.3" class="ic"/><path d="M22 608.5 C23 606 25 605 26.5 606.5 M26.5 606.5 L31.5 603" class="ic" style="stroke-width:1.1"/><path d="M18.5 634 L22.5 630 A4.2 4.2 0 0 1 28.5 636 L24.5 640 M22.6 641.5 L18.6 645.5 A4.2 4.2 0 0 1 12.6 639.5 L16.6 635.5 M17.6 640.5 L23.5 634.6" class="ic"/><path d="M10.5 682.8 H30.5 M17 682.8 V679.8 H24 V682.8 M12.8 682.8 L14.2 700.3 H26.8 L28.2 682.8" class="ic"/></svg>
<div class="a" style="left:2.5px;top:364px;width:37.5px;height:1px;background:#ebebeb"></div>
<div class="a" style="left:2.5px;top:455px;width:37.5px;height:1px;background:#ebebeb"></div>
<div class="a" style="left:2.5px;top:663px;width:37.5px;height:1px;background:#ebebeb"></div>
<svg style="left:1454px;top:0" width="46" height="901" viewBox="1454 0 46 901"><path d="M1466.8 53.5 H1487.2 V76.5 L1477 72.5 L1466.8 76.5 Z" class="ic"/><path d="M1471 59.1 H1483 M1471 63.1 H1483 M1471 67.2 H1483" class="ic"/><circle cx="1476.9" cy="113.3" r="10.6" class="ic"/><path d="M1477.8 108.5 V113.3 H1472.8" class="ic"/><path d="M1464.4 104.2 L1469.4 100" class="ic"/><rect x="1468.5" y="146.5" width="19" height="22.5" rx="2.5" class="ic"/><path d="M1472.5 152.5 H1483.5 M1472.5 157.5 H1483.5 M1472.5 162.5 H1483.5 M1463 145.5 H1471 M1467 141.5 V149.5" class="ic"/><rect x="1466" y="147" width="3.5" height="5" fill="#fff"/><path d="M1463 145.5 H1471 M1467 141.5 V149.5" class="ic"/><path d="M1477 191.5 L1489 198 L1477 204.5 L1465 198 Z M1465 203.5 L1477 210 L1489 203.5" class="ic"/><path d="M1465 238.5 H1482 V251.5 H1472 L1467.5 255.5 V251.5 H1465 Z" class="ic"/><path d="M1484.5 244.5 H1489 V257.5 H1486.5 V261.5 L1482 257.5 H1472.5 V254" class="ic"/><circle cx="1476.8" cy="628.8" r="13.2" class="ic"/><circle cx="1476.8" cy="628.8" r="7.8" class="ic"/><circle cx="1476.8" cy="628.8" r="1.9" fill="#1f1f1f"/><path d="M1476.8 628.8 L1485.5 620.1" class="ic"/><rect x="1465" y="667.5" width="24" height="21" rx="3" class="ic"/><path d="M1465 673 H1489" class="ic"/><rect x="1470" y="663.8" width="3.2" height="6.5" rx="1.4" class="ic" style="fill:#fff"/><rect x="1480.8" y="663.8" width="3.2" height="6.5" rx="1.4" class="ic" style="fill:#fff"/><circle cx="1467.6" cy="789.6" r="1.7" class="ic" style="stroke-width:1.5"/><path d="M1465.5 781.7 A9.8 9.8 0 0 1 1475.6 791.2 M1465.5 775.7 A15.8 15.8 0 0 1 1481.6 791.2 M1465.5 769.8 A21.8 21.8 0 0 1 1487.7 791.2" class="ic" style="stroke-width:1.5"/><path d="M1468.5 835.5 C1469.5 832.5 1470 829 1470 825 C1470 820.5 1473 817 1477.3 817 C1481.6 817 1484.6 820.5 1484.6 825 C1484.6 829 1485.1 832.5 1486.1 835.5 Z M1466.5 835.8 H1488.3 M1474.8 836.5 A2.5 2.5 0 0 0 1479.8 836.5" class="ic"/><path d="M1487.5 871 A12.8 12.8 0 1 1 1482.3 864" class="ic"/><path d="M1473.7 872.2 A3.5 3.5 0 1 1 1478.2 875.6 C1477.3 876.2 1477.2 877.2 1477.2 878.5" class="ic"/><circle cx="1477.2" cy="882.3" r="1" class="ic"/><path d="M1488.3 860.5 L1489.4 863.9 L1492.8 865 L1489.4 866.1 L1488.3 869.5 L1487.2 866.1 L1483.8 865 L1487.2 863.9 Z M1465 880.8 L1465.9 882.5 L1467.6 883.4 L1465.9 884.3 L1465 886 L1464.1 884.3 L1462.4 883.4 L1464.1 882.5 Z" class="ic" style="stroke-width:1"/></svg>
<div class="a" style="left:1459.3px;top:705.6px;width:34.5px;height:34.5px;border-radius:50%;background:#202020"></div>
<svg style="left:1454px;top:700px" width="46" height="46" viewBox="1454 700 46 46"><rect x="1466.75" y="712.95" width="4.3" height="4.3" rx="0.9" fill="#fff"/><rect x="1466.75" y="720.65" width="4.3" height="4.3" rx="0.9" fill="#fff"/><rect x="1466.75" y="728.35" width="4.3" height="4.3" rx="0.9" fill="#fff"/><rect x="1474.45" y="712.95" width="4.3" height="4.3" rx="0.9" fill="#fff"/><rect x="1474.45" y="720.65" width="4.3" height="4.3" rx="0.9" fill="#fff"/><rect x="1474.45" y="728.35" width="4.3" height="4.3" rx="0.9" fill="#fff"/><rect x="1482.15" y="712.95" width="4.3" height="4.3" rx="0.9" fill="#fff"/><rect x="1482.15" y="720.65" width="4.3" height="4.3" rx="0.9" fill="#fff"/><rect x="1482.15" y="728.35" width="4.3" height="4.3" rx="0.9" fill="#fff"/></svg>
<div class="a" style="left:1460px;top:752px;width:35px;height:1px;background:#ebebeb"></div>
<div class="a" style="left:1471.3px;top:91.8px;width:24.6px;height:17.5px;border-radius:9px;background:#e3323f;border:1.5px solid #fff"></div>
<div class="t" style="left:1483.6px;width:0;top:94.5px;font-size:12.5px;color:#fff;display:flex;justify-content:center;letter-spacing:0.30px">37</div>
<div class="a" style="left:1470.4px;top:761px;width:26px;height:18.8px;border-radius:9.5px;background:#e3323f;border:1.5px solid #fff"></div>
<div class="t" style="left:1483.5px;width:0;top:764.4px;font-size:12.5px;color:#fff;display:flex;justify-content:center;letter-spacing:0.30px">45</div>
<div class="a" style="left:60.5px;top:47px;width:18px;height:18px;border-radius:50%;background:#4b1530"></div>
<div class="t" style="left:69.5px;width:0;top:51.8px;font-size:9.0px;color:#fff;display:flex;justify-content:center;font-weight:700">40</div>
<div class="t" style="left:82.5px;top:48.7px;font-size:16.6px;color:#131722">Italy 40 Index Futures IT40U5 Expiry 11/09/2025 23:59 · 1h · FPMARKETS</div>
<div class="a" style="left:651.5px;top:49.5px;width:14px;height:14px;border-radius:50%;background:#d9f0ea"></div>
<div class="a" style="left:655px;top:53px;width:7px;height:7px;border-radius:50%;background:#0d9a7c"></div>
<div class="t" style="left:684.4px;top:50.0px;font-size:14.0px;color:#131722;letter-spacing:0.15px">O - Aper.</div>
<div class="t" style="left:742.0px;top:50.0px;font-size:14.0px;color:#d27979;letter-spacing:0.55px">39.822,51</div>
<div class="t" style="left:813.9px;top:50.0px;font-size:14.0px;color:#131722;letter-spacing:0.15px">H - Max.</div>
<div class="t" style="left:867.8px;top:50.0px;font-size:14.0px;color:#d27979;letter-spacing:0.55px">39.855,01</div>
<div class="t" style="left:939.6px;top:50.0px;font-size:14.0px;color:#131722;letter-spacing:0.15px">L - Min.</div>
<div class="t" style="left:988.8px;top:50.0px;font-size:14.0px;color:#d27979;letter-spacing:0.55px">39.802,49</div>
<div class="t" style="left:1060.3px;top:50.0px;font-size:14.0px;color:#131722;letter-spacing:0.15px">C - Chius.</div>
<div class="t" style="left:1123.9px;top:50.0px;font-size:14.0px;color:#d27979;letter-spacing:0.55px">39.812,51</div>
<div class="t" style="left:1195.2px;top:50.0px;font-size:14.0px;color:#d27979;letter-spacing:0.55px">0,00 (0,00%)</div>
<div class="a" style="left:60px;top:73.3px;width:86px;height:34px;border-radius:5px;border:1.5px solid #d49c9c;background:#fff"></div>
<div class="t" style="left:103.0px;width:0;top:78.4px;font-size:13.5px;color:#d06868;display:flex;justify-content:center;font-weight:700;letter-spacing:0.30px">39.812,51</div>
<div class="t" style="left:103.0px;width:0;top:93.8px;font-size:11.0px;color:#d47070;display:flex;justify-content:center;letter-spacing:0.40px">VENDI</div>
<div class="a" style="left:193px;top:73.3px;width:86.5px;height:34px;border-radius:5px;border:1.5px solid #7f9fcf;background:#fff"></div>
<div class="t" style="left:236.0px;width:0;top:78.4px;font-size:13.5px;color:#5a7fbd;display:flex;justify-content:center;font-weight:700;letter-spacing:0.30px">39.827,51</div>
<div class="t" style="left:236.0px;width:0;top:93.8px;font-size:11.0px;color:#5c82c0;display:flex;justify-content:center;letter-spacing:0.40px">COMPRA</div>
<div class="t" style="left:170.0px;width:0;top:85.4px;font-size:11.0px;color:#131722;display:flex;justify-content:center">15,00</div>
<div class="a" style="left:58px;top:114px;width:52px;height:22px;background:rgba(255,255,255,.72)"></div>
<div class="a" style="left:58px;top:136px;width:252px;height:24.5px;background:rgba(255,255,255,.72)"></div>
<div class="a" style="left:58px;top:160.5px;width:258px;height:24.5px;background:rgba(255,255,255,.72)"></div>
<div class="a" style="left:58px;top:185px;width:220px;height:25.5px;background:rgba(255,255,255,.72)"></div>
<div class="a" style="left:58px;top:210.5px;width:193px;height:25px;background:rgba(255,255,255,.72)"></div>
<div class="a" style="left:58px;top:235.5px;width:175px;height:24px;background:rgba(255,255,255,.72)"></div>
<div class="a" style="left:58px;top:260px;width:52px;height:24px;background:rgba(255,255,255,.72)"></div>
<div class="a" style="left:58px;top:284.5px;width:52px;height:23.5px;background:rgba(255,255,255,.72)"></div>
<div class="t" style="left:61.2px;top:118.4px;font-size:13.5px;color:#b9b9b9">Vol</div>
<svg style="left:89px;top:116px" width="18" height="16" viewBox="0 0 18 16"><path d="M1.5 8 C5 2.5 13 2.5 16.5 8 C13 13.5 5 13.5 1.5 8 Z" class="ic" style="stroke-width:1.3;stroke:#333"/><circle cx="9" cy="8" r="2.5" class="ic" style="stroke-width:1.3;stroke:#333"/><path d="M3.5 14 L14.5 2" stroke="#fff" stroke-width="3"/><path d="M3.5 14 L14.5 2" class="ic" style="stroke-width:1.2;stroke:#333"/></svg>
<div class="t" style="left:61.2px;top:142.8px;font-size:14.0px;color:#131722">MA 55 close 5 SMA 55</div>
<div class="a" style="left:211.9px;top:139.5px;width:19px;height:19px;border-radius:50%;background:#ece6fb"></div><svg style="left:214.4px;top:142px" width="14" height="14" viewBox="0 0 14 14"><path d="M2.5 6 A4.8 4.8 0 0 1 11.3 4.6 M11.5 8 A4.8 4.8 0 0 1 2.7 9.4" fill="none" stroke="#6a3fd0" stroke-width="1.8" stroke-linecap="round"/><path d="M11.8 1.8 V5 H8.6 M2.2 12.2 V9 H5.4" fill="none" stroke="#6a3fd0" stroke-width="1.6" stroke-linecap="round" stroke-linejoin="round"/></svg>
<div class="t" style="left:239.3px;top:142.8px;font-size:14.0px;color:#d26a6a;letter-spacing:0.40px">39.584,04</div>
<div class="t" style="left:61.2px;top:167.0px;font-size:14.0px;color:#131722;letter-spacing:0.12px">MA 120 close 5 SMA 12</div>
<div class="a" style="left:219.7px;top:164px;width:19px;height:19px;border-radius:50%;background:#ece6fb"></div><svg style="left:222.2px;top:166.5px" width="14" height="14" viewBox="0 0 14 14"><path d="M2.5 6 A4.8 4.8 0 0 1 11.3 4.6 M11.5 8 A4.8 4.8 0 0 1 2.7 9.4" fill="none" stroke="#6a3fd0" stroke-width="1.8" stroke-linecap="round"/><path d="M11.8 1.8 V5 H8.6 M2.2 12.2 V9 H5.4" fill="none" stroke="#6a3fd0" stroke-width="1.6" stroke-linecap="round" stroke-linejoin="round"/></svg>
<div class="t" style="left:247.3px;top:167.0px;font-size:14.0px;color:#131722;letter-spacing:0.40px">39.392,71</div>
<div class="t" style="left:61.2px;top:191.3px;font-size:14.0px;color:#131722">WMA 233 close 5</div>
<div class="a" style="left:178.6px;top:188.3px;width:19px;height:19px;border-radius:50%;background:#ece6fb"></div><svg style="left:181.1px;top:190.8px" width="14" height="14" viewBox="0 0 14 14"><path d="M2.5 6 A4.8 4.8 0 0 1 11.3 4.6 M11.5 8 A4.8 4.8 0 0 1 2.7 9.4" fill="none" stroke="#6a3fd0" stroke-width="1.8" stroke-linecap="round"/><path d="M11.8 1.8 V5 H8.6 M2.2 12.2 V9 H5.4" fill="none" stroke="#6a3fd0" stroke-width="1.6" stroke-linecap="round" stroke-linejoin="round"/></svg>
<div class="t" style="left:206.6px;top:191.3px;font-size:14.0px;color:#e9b9c9;letter-spacing:0.40px">39.527,59</div>
<div class="t" style="left:61.2px;top:216.1px;font-size:14.0px;color:#131722">SMA 14 close</div>
<div class="a" style="left:153.5px;top:213.1px;width:19px;height:19px;border-radius:50%;background:#ece6fb"></div><svg style="left:156px;top:215.6px" width="14" height="14" viewBox="0 0 14 14"><path d="M2.5 6 A4.8 4.8 0 0 1 11.3 4.6 M11.5 8 A4.8 4.8 0 0 1 2.7 9.4" fill="none" stroke="#6a3fd0" stroke-width="1.8" stroke-linecap="round"/><path d="M11.8 1.8 V5 H8.6 M2.2 12.2 V9 H5.4" fill="none" stroke="#6a3fd0" stroke-width="1.6" stroke-linecap="round" stroke-linejoin="round"/></svg>
<div class="t" style="left:181.4px;top:216.1px;font-size:14.0px;color:#5a4cc2;letter-spacing:0.40px">39.806,25</div>
<div class="t" style="left:61.2px;top:240.9px;font-size:13.5px;color:#b9b9b9">SuperTrend 10 3,5 hl2</div>
<svg style="left:209.5px;top:239px" width="18" height="16" viewBox="0 0 18 16"><path d="M1.5 8 C5 2.5 13 2.5 16.5 8 C13 13.5 5 13.5 1.5 8 Z" class="ic" style="stroke-width:1.3;stroke:#333"/><circle cx="9" cy="8" r="2.5" class="ic" style="stroke-width:1.3;stroke:#333"/><path d="M3.5 14 L14.5 2" stroke="#fff" stroke-width="3"/><path d="M3.5 14 L14.5 2" class="ic" style="stroke-width:1.2;stroke:#333"/></svg>
<div class="t" style="left:61.2px;top:265.4px;font-size:13.5px;color:#b9b9b9">Vol</div>
<svg style="left:89px;top:263.5px" width="18" height="16" viewBox="0 0 18 16"><path d="M1.5 8 C5 2.5 13 2.5 16.5 8 C13 13.5 5 13.5 1.5 8 Z" class="ic" style="stroke-width:1.3;stroke:#333"/><circle cx="9" cy="8" r="2.5" class="ic" style="stroke-width:1.3;stroke:#333"/><path d="M3.5 14 L14.5 2" stroke="#fff" stroke-width="3"/><path d="M3.5 14 L14.5 2" class="ic" style="stroke-width:1.2;stroke:#333"/></svg>
<div class="t" style="left:61.2px;top:289.9px;font-size:13.5px;color:#b9b9b9">Vol</div>
<svg style="left:89px;top:288px" width="18" height="16" viewBox="0 0 18 16"><path d="M1.5 8 C5 2.5 13 2.5 16.5 8 C13 13.5 5 13.5 1.5 8 Z" class="ic" style="stroke-width:1.3;stroke:#333"/><circle cx="9" cy="8" r="2.5" class="ic" style="stroke-width:1.3;stroke:#333"/><path d="M3.5 14 L14.5 2" stroke="#fff" stroke-width="3"/><path d="M3.5 14 L14.5 2" class="ic" style="stroke-width:1.2;stroke:#333"/></svg>
<div class="a" style="left:58px;top:312px;width:28.5px;height:20.5px;border-radius:2.5px;border:1px solid #e0e0e0;background:#fff"></div>
<svg style="left:66.1px;top:318.4px" width="12" height="8" viewBox="0 0 12 8"><path d="M2 6 L6 2 L10 6" class="ic" style="stroke-width:1.5"/></svg>
<svg style="left:62px;top:757px" width="34" height="19" viewBox="0 0 34 19"><path d="M1.5 2.2 H13.7 V17.5 H7.8 V8.2 H1.5 Z" fill="#111"/><circle cx="19.1" cy="5.1" r="3.1" fill="#111"/><path d="M25 2.2 H32 L26.2 17.5 H19.1 Z" fill="#111"/></svg>
<div class="a" style="left:1372.5px;top:45.5px;width:72px;height:25px;border-radius:5px;border:1px solid #efefef"></div>
<div class="t" style="left:1376.5px;top:51.8px;font-size:13.0px;color:#131722">EUR</div>
<svg style="left:1433px;top:55px" width="10" height="7" viewBox="0 0 10 7"><path d="M1.5 1.5 L5 5 L8.5 1.5" class="ic" style="stroke-width:1.5"/></svg>
<div class="t" style="left:1377.5px;top:103.3px;font-size:13.0px;color:#222;letter-spacing:0.30px">40.100,00</div>
<div class="t" style="left:1377.5px;top:143.3px;font-size:13.0px;color:#222;letter-spacing:0.30px">40.000,00</div>
<div class="t" style="left:1377.5px;top:183.3px;font-size:13.0px;color:#222;letter-spacing:0.30px">39.900,00</div>
<div class="t" style="left:1377.5px;top:263.3px;font-size:13.0px;color:#222;letter-spacing:0.30px">39.700,00</div>
<div class="t" style="left:1377.5px;top:303.3px;font-size:13.0px;color:#222;letter-spacing:0.30px">39.600,00</div>
<div class="t" style="left:1377.5px;top:343.3px;font-size:13.0px;color:#222;letter-spacing:0.30px">39.500,00</div>
<div class="t" style="left:1377.5px;top:383.3px;font-size:13.0px;color:#222;letter-spacing:0.30px">39.400,00</div>
<div class="t" style="left:1377.5px;top:423.3px;font-size:13.0px;color:#222;letter-spacing:0.30px">39.300,00</div>
<div class="t" style="left:1377.5px;top:463.3px;font-size:13.0px;color:#222;letter-spacing:0.30px">39.200,00</div>
<div class="t" style="left:1377.5px;top:503.3px;font-size:13.0px;color:#222;letter-spacing:0.30px">39.100,00</div>
<div class="t" style="left:1377.5px;top:543.3px;font-size:13.0px;color:#222;letter-spacing:0.30px">39.000,00</div>
<div class="t" style="left:1377.5px;top:583.3px;font-size:13.0px;color:#222;letter-spacing:0.30px">38.900,00</div>
<div class="t" style="left:1377.5px;top:623.3px;font-size:13.0px;color:#222;letter-spacing:0.30px">38.800,00</div>
<div class="t" style="left:1377.5px;top:663.3px;font-size:13.0px;color:#222;letter-spacing:0.30px">38.700,00</div>
<div class="t" style="left:1377.5px;top:703.3px;font-size:13.0px;color:#222;letter-spacing:0.30px">38.600,00</div>
<div class="t" style="left:1377.5px;top:743.3px;font-size:13.0px;color:#222;letter-spacing:0.30px">38.500,00</div>
<div class="a" style="left:1368.5px;top:217.4px;width:76px;height:31.5px;background:#ef5350;border-radius:2px"></div>
<div class="t" style="left:1377.5px;top:219.4px;font-size:13.0px;color:#fff;letter-spacing:0.30px">39.812,51</div>
<div class="t" style="left:1377.5px;top:233.2px;font-size:13.0px;color:#fff;letter-spacing:0.30px">15:30</div>
<div class="t" style="left:138.1px;width:0;top:798.7px;font-size:12.5px;color:#222;display:flex;justify-content:center;letter-spacing:0.20px">23</div>
<div class="t" style="left:371.4px;width:0;top:798.7px;font-size:12.5px;color:#222;display:flex;justify-content:center;letter-spacing:0.20px">12:00</div>
<div class="t" style="left:494.8px;width:0;top:798.7px;font-size:12.5px;color:#222;display:flex;justify-content:center;letter-spacing:0.20px">25</div>
<div class="t" style="left:549.7px;width:0;top:798.7px;font-size:12.5px;color:#222;display:flex;justify-content:center;letter-spacing:0.20px">12:00</div>
<div class="t" style="left:673.2px;width:0;top:798.7px;font-size:12.5px;color:#222;display:flex;justify-content:center;letter-spacing:0.20px">26</div>
<div class="t" style="left:728.1px;width:0;top:798.7px;font-size:12.5px;color:#222;display:flex;justify-content:center;letter-spacing:0.20px">12:00</div>
<div class="t" style="left:851.6px;width:0;top:798.7px;font-size:12.5px;color:#222;display:flex;justify-content:center;letter-spacing:0.20px">27</div>
<div class="t" style="left:906.5px;width:0;top:798.7px;font-size:12.5px;color:#222;display:flex;justify-content:center;letter-spacing:0.20px">12:00</div>
<div class="t" style="left:1029.9px;width:0;top:798.7px;font-size:12.5px;color:#222;display:flex;justify-content:center;letter-spacing:0.20px">30</div>
<div class="t" style="left:1084.8px;width:0;top:798.7px;font-size:12.5px;color:#222;display:flex;justify-content:center;letter-spacing:0.20px">12:00</div>
<div class="t" style="left:1208.3px;width:0;top:798.7px;font-size:12.5px;color:#131722;display:flex;justify-content:center;font-weight:700">Lug</div>
<div class="t" style="left:1263.2px;width:0;top:798.7px;font-size:12.5px;color:#222;display:flex;justify-content:center;letter-spacing:0.20px">12:00</div>
<div class="t" style="left:193.0px;width:0;top:798.7px;font-size:12.5px;color:#222;display:flex;justify-content:center;letter-spacing:0.20px">12:00</div>
<div class="a" style="left:202.7px;top:789.5px;width:144.5px;height:24px;background:#1fb2cc"></div>
<div class="t" style="left:211.5px;top:797.8px;font-size:13.0px;color:#083039;letter-spacing:0.25px">lun 23 Giu '25</div>
<div class="t" style="left:304.8px;top:797.8px;font-size:13.0px;color:#083039;letter-spacing:0.25px">18:00</div>
<svg style="left:1399px;top:794px" width="20" height="20" viewBox="0 0 20 20"><path d="M5.5 2.5 H14.5 L19 10 L14.5 17.5 H5.5 L1 10 Z" class="ic" style="stroke-width:1.3"/><circle cx="10" cy="10" r="2.6" class="ic" style="stroke-width:1.3"/></svg>
<div class="t" style="left:66.7px;top:832.1px;font-size:14.5px;color:#131722;letter-spacing:0.20px">1D</div>
<div class="t" style="left:97.3px;top:832.1px;font-size:14.5px;color:#131722;letter-spacing:0.20px">5D</div>
<div class="t" style="left:129.3px;top:832.1px;font-size:14.5px;color:#131722;letter-spacing:0.20px">1M</div>
<div class="t" style="left:162.7px;top:832.1px;font-size:14.5px;color:#131722;letter-spacing:0.20px">3M</div>
<div class="t" style="left:196.0px;top:832.1px;font-size:14.5px;color:#131722;letter-spacing:0.20px">6M</div>
<div class="t" style="left:229.9px;top:832.1px;font-size:14.5px;color:#131722;letter-spacing:0.20px">YTD</div>
<div class="t" style="left:270.7px;top:832.1px;font-size:14.5px;color:#131722;letter-spacing:0.20px">1Y</div>
<div class="t" style="left:300.8px;top:832.1px;font-size:14.5px;color:#131722;letter-spacing:0.20px">5Y</div>
<div class="t" style="left:332.0px;top:832.1px;font-size:14.5px;color:#131722;letter-spacing:0.20px">Tutto</div>
<div class="a" style="left:376px;top:827px;width:1px;height:24px;background:#e8e8e8"></div>
<svg style="left:388px;top:827px" width="24" height="24" viewBox="0 0 24 24"><path d="M6 6 H19.5 A1.5 1.5 0 0 1 21 7.5 V20 A1.5 1.5 0 0 1 19.5 21.5 H12 M3 13 V7.5 A1.5 1.5 0 0 1 4.5 6 H6 M3 10 H21 M7 3.5 V7.5 M17 3.5 V7.5 M2 17.5 H9 M6.5 15 L9 17.5 L6.5 20" class="ic"/></svg>
<div class="t" style="right:61.6px;top:831.2px;font-size:15.0px;color:#131722">08:44:29 UTC+2</div>
<div class="t" style="left:68.0px;top:875.3px;font-size:14.5px;color:#131722;letter-spacing:0.20px">Editor Pine</div>
<div class="t" style="left:172.8px;top:875.3px;font-size:14.5px;color:#131722;letter-spacing:0.20px">Tester strategia</div>
<div class="t" style="left:308.0px;top:875.3px;font-size:14.5px;color:#131722;letter-spacing:0.20px">Replay trading</div>
<div class="t" style="left:436.0px;top:875.3px;font-size:14.5px;color:#131722;letter-spacing:0.20px">Pannello trading</div>
<svg style="left:1383px;top:872px" width="20" height="14" viewBox="0 0 20 14"><path d="M2 11 L10 3 L18 11" class="ic" style="stroke-width:1.5"/></svg>
<svg style="left:1420px;top:871px" width="20" height="19" viewBox="0 0 20 19"><path d="M2 6 V4 A2 2 0 0 1 4 2 H16 A2 2 0 0 1 18 4 V6 M18 13 V15 A2 2 0 0 1 16 17 H4 A2 2 0 0 1 2 15 V13" class="ic" style="stroke-width:1.5"/></svg>
</body></html>
